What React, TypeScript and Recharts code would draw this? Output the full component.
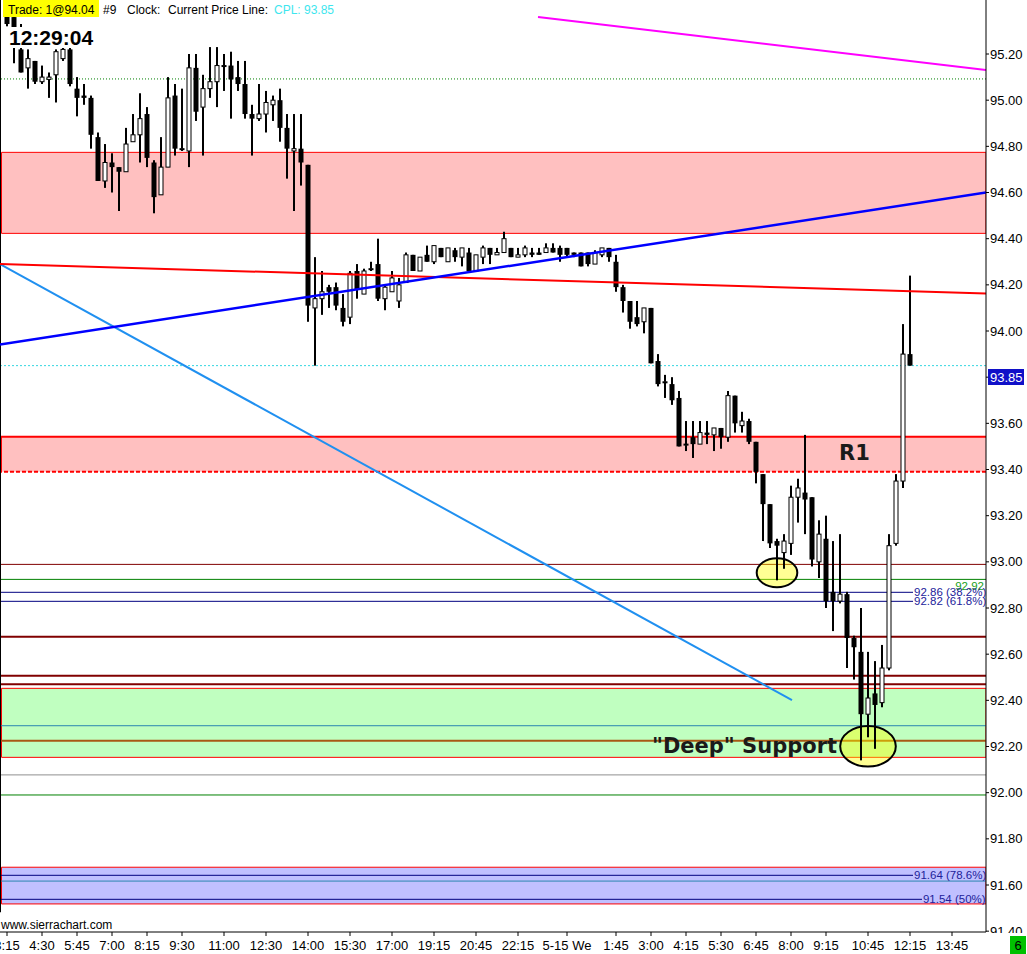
import React from 'react';
import { ComposedChart, Bar, XAxis, YAxis, ReferenceLine, ReferenceArea, ReferenceDot } from 'recharts';

// ---- candle data (15-minute bars) ----
const opens = [
  95.39, 95.36, 95.22, 95.14, 95.17, 95.08, 95.09, 95.11, 95.18, 95.22,
  95.05, 95.02, 95.01, 94.84, 94.65, 94.73, 94.71, 94.69, 94.82, 94.85,
  94.94, 94.73, 94.59, 94.71, 95.02, 94.79, 94.78, 95.14, 94.97, 95.05,
  95.08, 95.15, 95.15, 95.10, 95.07, 94.94, 94.92, 94.94, 94.98, 95.00,
  94.88, 94.78, 94.79, 94.72, 94.10, 94.14, 94.19, 94.19, 94.10, 94.06,
  94.26, 94.16, 94.27, 94.29, 94.14, 94.17, 94.13, 94.21, 94.33, 94.26,
  94.33, 94.30, 94.36, 94.30, 94.35, 94.32, 94.34, 94.26, 94.32, 94.36,
  94.33, 94.34, 94.36, 94.32, 94.33, 94.34, 94.34, 94.34, 94.36, 94.36,
  94.36, 94.34, 94.34, 94.34, 94.29, 94.33, 94.36, 94.30, 94.19, 94.13,
  94.06, 94.04, 94.10, 93.87, 93.78, 93.77, 93.71, 93.51, 93.54, 93.51,
  93.56, 93.55, 93.58, 93.54, 93.72, 93.59, 93.61, 93.52, 93.38, 93.25,
  93.09, 93.04, 93.08, 93.28, 93.30, 93.28, 93.00, 93.10, 92.87, 92.83,
  92.86, 92.67, 92.61, 92.34, 92.43, 92.39, 92.54, 93.08, 93.35, 93.90,
];
const highs = [
  95.40, 95.37, 95.33, 95.22, 95.17, 95.15, 95.12, 95.22, 95.24, 95.23,
  95.10, 95.07, 95.02, 94.86, 94.81, 94.77, 94.71, 94.88, 94.94, 95.03,
  94.97, 94.74, 94.84, 95.10, 95.07, 95.05, 95.20, 95.20, 95.11, 95.23,
  95.23, 95.20, 95.21, 95.17, 95.17, 94.98, 95.07, 95.04, 95.02, 95.05,
  94.94, 94.94, 94.94, 94.72, 94.32, 94.26, 94.20, 94.21, 94.16, 94.26,
  94.29, 94.27, 94.30, 94.40, 94.20, 94.26, 94.23, 94.34, 94.33, 94.32,
  94.37, 94.37, 94.36, 94.36, 94.36, 94.36, 94.36, 94.33, 94.37, 94.36,
  94.36, 94.43, 94.36, 94.36, 94.37, 94.36, 94.36, 94.38, 94.38, 94.37,
  94.36, 94.34, 94.34, 94.34, 94.35, 94.36, 94.36, 94.33, 94.20, 94.13,
  94.13, 94.10, 94.10, 93.90, 93.81, 93.80, 93.74, 93.61, 93.61, 93.61,
  93.61, 93.58, 93.58, 93.74, 93.72, 93.65, 93.62, 93.52, 93.38, 93.25,
  93.10, 93.12, 93.33, 93.36, 93.55, 93.28, 93.18, 93.20, 93.09, 93.12,
  92.87, 92.68, 92.80, 92.61, 92.57, 92.64, 93.12, 93.38, 94.03, 94.24,
];
const lows = [
  95.32, 95.16, 95.12, 95.05, 95.07, 95.07, 95.01, 94.99, 95.17, 95.06,
  94.93, 94.98, 94.79, 94.65, 94.62, 94.60, 94.52, 94.69, 94.82, 94.73,
  94.71, 94.51, 94.59, 94.71, 94.76, 94.78, 94.71, 94.91, 94.76, 95.01,
  94.97, 95.04, 94.92, 95.04, 94.92, 94.76, 94.91, 94.86, 94.91, 94.82,
  94.66, 94.52, 94.63, 94.04, 93.85, 94.07, 94.10, 94.09, 94.02, 94.03,
  94.14, 94.16, 94.26, 94.13, 94.09, 94.17, 94.10, 94.21, 94.26, 94.26,
  94.30, 94.29, 94.32, 94.30, 94.30, 94.28, 94.26, 94.26, 94.29, 94.29,
  94.33, 94.34, 94.32, 94.32, 94.32, 94.32, 94.33, 94.34, 94.34, 94.30,
  94.32, 94.32, 94.28, 94.28, 94.29, 94.32, 94.30, 94.17, 94.08, 94.01,
  94.02, 93.99, 93.86, 93.76, 93.71, 93.68, 93.50, 93.48, 93.45, 93.51,
  93.51, 93.48, 93.49, 93.52, 93.56, 93.56, 93.51, 93.34, 93.09, 93.06,
  92.92, 92.97, 93.03, 93.17, 93.12, 92.98, 92.93, 92.80, 92.70, 92.82,
  92.54, 92.49, 92.14, 92.24, 92.19, 92.37, 92.53, 93.07, 93.32, 93.85,
];
const closes = [
  95.33, 95.26, 95.12, 95.18, 95.08, 95.10, 95.10, 95.21, 95.22, 95.07,
  95.01, 95.01, 94.85, 94.65, 94.73, 94.71, 94.69, 94.81, 94.85, 94.92,
  94.75, 94.58, 94.71, 95.01, 94.79, 94.79, 95.14, 94.95, 95.05, 95.08,
  95.15, 95.15, 95.09, 95.07, 94.94, 94.92, 94.94, 94.99, 95.00, 94.88,
  94.79, 94.79, 94.73, 94.11, 94.14, 94.17, 94.17, 94.11, 94.04, 94.25,
  94.18, 94.26, 94.27, 94.14, 94.19, 94.23, 94.20, 94.33, 94.26, 94.32,
  94.30, 94.37, 94.32, 94.36, 94.32, 94.36, 94.26, 94.33, 94.36, 94.33,
  94.34, 94.40, 94.32, 94.33, 94.36, 94.33, 94.33, 94.36, 94.34, 94.33,
  94.33, 94.33, 94.28, 94.29, 94.34, 94.36, 94.32, 94.19, 94.13, 94.04,
  94.03, 94.10, 93.86, 93.77, 93.78, 93.70, 93.50, 93.51, 93.51, 93.56,
  93.55, 93.58, 93.54, 93.72, 93.60, 93.61, 93.52, 93.39, 93.25, 93.08,
  93.07, 93.09, 93.28, 93.32, 93.27, 93.01, 93.12, 92.83, 92.83, 92.86,
  92.67, 92.63, 92.34, 92.41, 92.38, 92.54, 93.07, 93.35, 93.90, 93.85,
];

// ---- axis ticks ----
const timeTickIdx = [0, 5, 10, 15, 20, 25, 31, 37, 43, 49, 55, 61, 67, 73, 80, 87, 92, 97, 102, 107, 112, 117, 123, 129, 135];
const timeTickLabels = ['3:15', '4:30', '5:45', '7:00', '8:15', '9:30', '11:00', '12:30', '14:00', '15:30', '17:00', '19:15', '20:45', '22:15', '5-15 We', '1:45', '3:00', '4:15', '5:30', '6:45', '8:00', '9:15', '10:45', '12:15', '13:45'];
const priceTicks = [91.4, 91.6, 91.8, 92.0, 92.2, 92.4, 92.6, 92.8, 93.0, 93.2, 93.4, 93.6, 93.8, 94.0, 94.2, 94.4, 94.6, 94.8, 95.0, 95.2];

// ---- zones and levels (prices) ----
const zoneUpper = [94.423, 94.774];
const zoneR1 = [93.390, 93.542];
const zoneDeep = [92.153, 92.452];
const zoneFib = [91.518, 91.677];
const dottedTop = 95.092;
const cpl = 93.85;
const maroonLevels = [92.989, 92.676, 92.507, 92.470];
const greenLevel = 92.924;
const fib382 = 92.868;
const fib618 = 92.829;
const tealLevel = 92.290;
const brownLevel = 92.225;
const grayLevel = 92.077;
const green2Level = 91.990;
const fib786 = 91.642;
const tealLevel2 = 91.617;
const fib50 = 91.538;

// ---- trend lines (bar index, price) ----
const blueTrend = [{ x: -1, y: 93.942 }, { x: 139.857, y: 94.600 }];
const redTrend = [{ x: -1, y: 94.290 }, { x: 139.857, y: 94.163 }];
const lightBlueTrend = [{ x: -1, y: 94.290 }, { x: 112.14, y: 92.401 }];
const magentaTrend = [{ x: 75.86, y: 95.360 }, { x: 139.857, y: 95.131 }];

const X_DOMAIN = [-1, 139.857];
const Y_DOMAIN = [91.3964, 95.434];

const rows = opens.map((o, i) => ({
  i,
  o,
  h: highs[i],
  l: lows[i],
  c: closes[i],
  range: [lows[i], highs[i]],
}));

const FONT = "'Liberation Sans', Arial, sans-serif";

const Candle = (props: any) => {
  const { x, y, width, height, payload } = props;
  if (!payload || x == null || y == null) return null;
  const { o, h, l, c } = payload;
  const top = Math.min(y, y + height);
  const span = Math.abs(height);
  const k = h > l ? span / (h - l) : 0;
  const yOf = (v: number) => top + (h - v) * k;
  const cx = x + width / 2;
  const yo = yOf(o);
  const yc = yOf(c);
  const bTop = Math.min(yo, yc);
  const bH = Math.max(Math.abs(yo - yc), 1);
  const up = c >= o;
  return (
    <g>
      <line x1={cx} x2={cx} y1={top} y2={top + span} stroke="#000" strokeWidth={2} />
      {up ? (
        <rect x={cx - 2} y={bTop} width={4} height={bH} fill="#fff" stroke="#000" strokeWidth={1} />
      ) : (
        <rect x={cx - 2.5} y={bTop} width={5} height={bH} fill="#000" />
      )}
    </g>
  );
};

const ellipseShape = (rx: number, ry: number) => (p: any) => (
  <ellipse cx={p.cx} cy={p.cy} rx={rx} ry={ry} fill="#ffff00" fillOpacity={0.42} stroke="#000" strokeWidth={2} />
);

const textShape = (txt: string) => (p: any) => (
  <text x={p.cx} y={p.cy} fontSize={21} fontWeight="bold" fontFamily="'DejaVu Sans', sans-serif" fill="#1a1a1a">
    {txt}
  </text>
);

const fibLabel = (txt: string) => ({
  value: txt,
  position: 'right' as const,
  offset: 1,
  fill: '#22229a',
  fontSize: 11.5,
  fontFamily: FONT,
});

export default function App() {
  return (
    <div style={{ position: 'absolute', left: 0, top: 0, width: 1027, height: 954, background: '#fff', overflow: 'hidden' }}>
      <ComposedChart width={1027} height={954} data={rows} margin={{ top: 0, right: 0, bottom: 0, left: 0 }}>
        <XAxis
          type="number"
          dataKey="i"
          domain={X_DOMAIN}
          allowDataOverflow
          ticks={timeTickIdx}
          interval={0}
          tickFormatter={(v: number) => timeTickLabels[timeTickIdx.indexOf(v)] ?? ''}
          height={22}
          tickSize={4}
          tickMargin={5}
          axisLine={{ stroke: '#000' }}
          tickLine={{ stroke: '#000' }}
          tick={{ fontSize: 13, fill: '#000', fontFamily: FONT }}
        />
        <YAxis
          type="number"
          orientation="right"
          domain={Y_DOMAIN}
          allowDataOverflow
          ticks={priceTicks}
          interval={0}
          tickFormatter={(v: number) => v.toFixed(2)}
          width={41}
          tickSize={3}
          tickMargin={1}
          axisLine={{ stroke: '#000' }}
          tickLine={{ stroke: '#000' }}
          tick={{ fontSize: 13, fill: '#000', fontFamily: FONT }}
        />

        {/* zones */}
        <ReferenceArea x1={-0.79} x2={X_DOMAIN[1]} y1={zoneUpper[0]} y2={zoneUpper[1]} fill="#ffc0c0" fillOpacity={1} stroke="#ff0000" strokeWidth={1} ifOverflow="hidden" zIndex={100} />
        <ReferenceArea x1={-0.79} x2={X_DOMAIN[1]} y1={zoneR1[0]} y2={zoneR1[1]} fill="#ffc0c0" fillOpacity={1} stroke="none" ifOverflow="hidden" zIndex={100} />
        <ReferenceArea x1={-0.79} x2={X_DOMAIN[1]} y1={zoneDeep[0]} y2={zoneDeep[1]} fill="#c0ffc0" fillOpacity={1} stroke="#ff0000" strokeWidth={1} ifOverflow="hidden" zIndex={100} />
        <ReferenceArea x1={-0.79} x2={X_DOMAIN[1]} y1={zoneFib[0]} y2={zoneFib[1]} fill="#c0c0ff" fillOpacity={1} stroke="#ff0000" strokeWidth={1} ifOverflow="hidden" zIndex={100} />

        {/* horizontal levels */}
        <ReferenceLine y={zoneR1[1]} stroke="#ff0000" strokeWidth={2} ifOverflow="hidden" zIndex={150} />
        <ReferenceLine y={zoneR1[0]} stroke="#ff0000" strokeWidth={2} strokeDasharray="4 2" ifOverflow="hidden" zIndex={150} />
        <ReferenceLine segment={[{ x: -0.79, y: zoneR1[0] }, { x: -0.79, y: zoneR1[1] }]} stroke="#ff0000" strokeWidth={1} ifOverflow="hidden" zIndex={150} />
        <ReferenceLine y={dottedTop} stroke="#008000" strokeWidth={1} strokeDasharray="1 2" ifOverflow="hidden" zIndex={150} />
        <ReferenceLine y={cpl} stroke="#33d6e0" strokeWidth={1} strokeDasharray="2 2" ifOverflow="hidden" zIndex={150} />
        <ReferenceLine y={maroonLevels[0]} stroke="#800000" strokeWidth={1} ifOverflow="hidden" zIndex={150} />
        <ReferenceLine y={maroonLevels[1]} stroke="#800000" strokeWidth={2} ifOverflow="hidden" zIndex={150} />
        <ReferenceLine y={maroonLevels[2]} stroke="#800000" strokeWidth={2} ifOverflow="hidden" zIndex={150} />
        <ReferenceLine y={maroonLevels[3]} stroke="#800000" strokeWidth={2} ifOverflow="hidden" zIndex={150} />
        <ReferenceLine
          y={greenLevel}
          stroke="#008000"
          strokeWidth={1}
          ifOverflow="hidden"
          zIndex={150}
          label={{ value: '92.92', position: 'insideTopRight', offset: 2, fill: '#1aa01a', fontSize: 11.5, fontFamily: FONT }}
        />
        <ReferenceLine segment={[{ x: -1, y: fib382 }, { x: 129.43, y: fib382 }]} stroke="#000080" strokeWidth={1} ifOverflow="hidden" zIndex={150} label={fibLabel('92.86 (38.2%)')} />
        <ReferenceLine segment={[{ x: -1, y: fib618 }, { x: 129.43, y: fib618 }]} stroke="#000080" strokeWidth={1} ifOverflow="hidden" zIndex={150} label={fibLabel('92.82 (61.8%)')} />
        <ReferenceLine y={tealLevel} stroke="#2a86b0" strokeWidth={1} ifOverflow="hidden" zIndex={150} />
        <ReferenceLine y={brownLevel} stroke="#a85a14" strokeWidth={2} ifOverflow="hidden" zIndex={150} />
        <ReferenceLine y={grayLevel} stroke="#909090" strokeWidth={1} ifOverflow="hidden" zIndex={150} />
        <ReferenceLine y={green2Level} stroke="#008000" strokeWidth={1} ifOverflow="hidden" zIndex={150} />
        <ReferenceLine segment={[{ x: -1, y: fib786 }, { x: 129.43, y: fib786 }]} stroke="#000080" strokeWidth={1} ifOverflow="hidden" zIndex={150} label={fibLabel('91.64  (78.6%)')} />
        <ReferenceLine y={tealLevel2} stroke="#2a86b0" strokeWidth={1} ifOverflow="hidden" zIndex={150} />
        <ReferenceLine segment={[{ x: -1, y: fib50 }, { x: 130.71, y: fib50 }]} stroke="#000080" strokeWidth={1} ifOverflow="hidden" zIndex={150} label={fibLabel('91.54  (50%)')} />
        <ReferenceLine segment={[{ x: -1, y: 91.482 }, { x: -1, y: Y_DOMAIN[1] }]} stroke="#000" strokeWidth={2} ifOverflow="visible" zIndex={150} />

        {/* highlight ellipses */}
        <ReferenceDot x={110} y={92.9525} r={20} shape={ellipseShape(20.3, 14.5)} ifOverflow="visible" zIndex={200} />
        <ReferenceDot x={123} y={92.2009} r={27} shape={ellipseShape(27.8, 20.3)} ifOverflow="visible" zIndex={200} />

        {/* candles */}
        <Bar dataKey="range" barSize={5} isAnimationActive={false} shape={(p: any) => <Candle {...p} />} zIndex={300} />

        {/* trend lines */}
        <ReferenceLine segment={lightBlueTrend} stroke="#2090f0" strokeWidth={2} ifOverflow="hidden" zIndex={400} />
        <ReferenceLine segment={redTrend} stroke="#ff0000" strokeWidth={2} ifOverflow="hidden" zIndex={400} />
        <ReferenceLine segment={blueTrend} stroke="#0000ff" strokeWidth={2.5} ifOverflow="hidden" zIndex={400} />
        <ReferenceLine segment={magentaTrend} stroke="#ff00ff" strokeWidth={2} ifOverflow="hidden" zIndex={400} />

        {/* annotations */}
        <ReferenceDot x={118.86} y={93.441} r={1} shape={textShape('R1')} ifOverflow="visible" zIndex={450} />
        <ReferenceDot x={92.14} y={92.172} r={1} shape={textShape('"Deep" Support')} ifOverflow="visible" zIndex={450} />
      </ComposedChart>

      <svg width={1027} height={954} style={{ position: 'absolute', left: 0, top: 0, pointerEvents: 'none' }}>
        <rect x={3} y={0} width={96} height={17} fill="#ffff00" />
        <text x={8} y={13.5} fontSize={12} fontFamily={FONT} fill="#000">Trade: 1@94.04</text>
        <text x={103} y={13.5} fontSize={12} fontFamily={FONT} fill="#000">#9</text>
        <text x={127} y={13.5} fontSize={12} fontFamily={FONT} fill="#000">Clock:</text>
        <text x={168} y={13.5} fontSize={12} fontFamily={FONT} fill="#000">Current Price Line:</text>
        <text x={274} y={13.5} fontSize={12} fontFamily={FONT} fill="#3ee6ee">CPL: 93.85</text>
        <rect x={7} y={27} width={89} height={21} fill="#fff" />
        <text x={9} y={45} fontSize={21} fontWeight="bold" fontFamily={FONT} fill="#000">12:29:04</text>
        <text x={1} y={928.5} fontSize={12} fontFamily={FONT} fill="#000">www.sierrachart.com</text>
        <rect x={988} y={369} width={36} height={16} fill="#1010c8" />
        <text x={990} y={381.5} fontSize={13} fontFamily={FONT} fill="#fff">93.85</text>
        <rect x={988} y={933} width={39} height={21} fill="#fff" />
        <rect x={1010} y={936} width={16} height={18} fill="#00c000" />
        <text x={1018} y={950} fontSize={13} fontFamily={FONT} fill="#000" textAnchor="middle">6</text>
      </svg>
    </div>
  );
}
